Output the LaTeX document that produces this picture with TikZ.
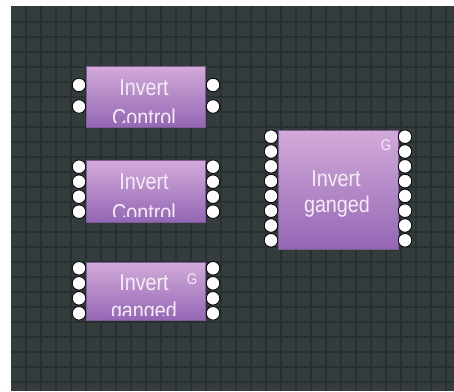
\documentclass[tikz,border=0pt]{standalone}
\usepackage{fontspec}
\setmainfont{Liberation Sans}[FakeStretch=0.86]
\usepackage{tikz}
\usetikzlibrary{positioning}

\definecolor{canvas}{HTML}{343C3D}
\definecolor{gridline}{HTML}{273131}
\definecolor{blocktop}{HTML}{D2ABD9}
\definecolor{blockbottom}{HTML}{9466B5}
\definecolor{blockedge}{HTML}{7C5C93}
\definecolor{labeltext}{HTML}{F4ECF6}

\begin{document}
\begin{tikzpicture}[
    x=1pt, y=-1pt,
    block/.style={
        draw=blockedge,
        line width=0.6pt,
        top color=blocktop,
        bottom color=blockbottom,
        anchor=north west,
        inner sep=0pt
    },
    title/.style={
        text=labeltext,
        font=\fontsize{23}{28}\selectfont,
        anchor=base,
        inner sep=0pt
    },
    gang/.style={
        text=labeltext,
        font=\fontsize{15.5}{17}\selectfont,
        anchor=base,
        inner sep=0pt
    },
    port/.style={
        circle,
        draw=black,
        line width=0.8pt,
        fill=white,
        minimum size=13.5pt,
        inner sep=0pt
    }
]

% canvas
\useasboundingbox (0,0) rectangle (454,391);
\fill[white] (0,0) rectangle (454,391);
\fill[canvas] (11,6) rectangle (454,391);
\foreach \gx in {26,41,...,446}
    \draw[gridline, line width=1.5pt] (\gx,6) -- (\gx,391);
\foreach \gy in {22,37,...,382}
    \draw[gridline, line width=1.5pt] (11,\gy) -- (454,\gy);

% blocks
\node[block, minimum width=119pt, minimum height=61pt] (ctrltwo) at (86,66) {};
\node[block, minimum width=119pt, minimum height=62pt] (ctrlfour) at (86,160) {};
\node[block, minimum width=119pt, minimum height=58pt] (gangfour) at (86,262) {};
\node[block, minimum width=120pt, minimum height=119pt] (gangeight) at (278,130) {};

% labels, cut a little above the block bottom
\begin{scope}
    \clip (ctrltwo.north west) rectangle ([yshift=5pt]ctrltwo.south east);
    \node[title] (ctrltwotop) at (144,95) {Invert};
    \node[title] (ctrltwobot) at (144,125) {Control};
\end{scope}
\begin{scope}
    \clip (ctrlfour.north west) rectangle ([yshift=6pt]ctrlfour.south east);
    \node[title] (ctrlfourtop) at (144,189.5) {Invert};
    \node[title] (ctrlfourbot) at (144,220.5) {Control};
\end{scope}
\begin{scope}
    \clip (gangfour.north west) rectangle ([yshift=5pt]gangfour.south east);
    \node[title] (gangfourtop) at (144,290) {Invert};
    \node[title] (gangfourbot) at (144,318) {ganged};
    \node[gang] (gangfourg) at (192,284) {G};
\end{scope}
\node[title] (gangeighttop) at (336,186) {Invert};
\node[title] (gangeightbot) at (337,212) {ganged};
\node[gang] (gangeightg) at (386,150) {G};

% ports
\foreach \py [count=\i] in {85,106.5} {
    \node[port] (ctrltwoin\i) at (79,\py) {};
    \node[port] (ctrltwoout\i) at (213,\py) {};
}
\foreach \py [count=\i] in {166.7,181.7,196.7,211.7} {
    \node[port] (ctrlfourin\i) at (79,\py) {};
    \node[port] (ctrlfourout\i) at (213,\py) {};
}
\foreach \py [count=\i] in {268.3,283.3,298.3,313.3} {
    \node[port] (gangfourin\i) at (79,\py) {};
    \node[port] (gangfourout\i) at (213,\py) {};
}
\foreach \py [count=\i] in {136.7,151.5,166.3,181.1,195.9,210.7,225.5,240.3} {
    \node[port] (gangeightin\i) at (271,\py) {};
    \node[port] (gangeightout\i) at (405,\py) {};
}

\end{tikzpicture}
\end{document}
